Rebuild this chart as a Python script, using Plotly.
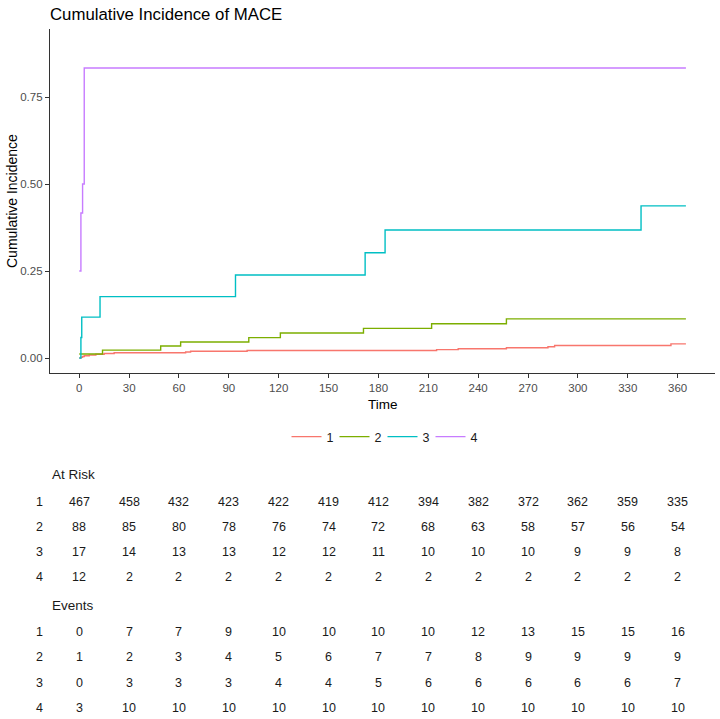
import plotly.graph_objects as go

# ---------------- data ----------------
groups = ["1", "2", "3", "4"]
colors = ["#F8766D", "#7CAE00", "#00BFC4", "#C77CFF"]

# step curves: event times and cumulative incidence after each step
t_1 = [0, 1, 2, 3, 6, 10, 15, 21, 64, 67, 101, 215, 228, 257, 282, 286, 356, 365]
ci_1 = [0.0, 0.0021, 0.0043, 0.0064, 0.0086, 0.0107, 0.0128, 0.015, 0.0172, 0.0194, 0.0216,
        0.0240, 0.0265, 0.0293, 0.0325, 0.0360, 0.0405, 0.0405]

t_2 = [0, 14, 49, 61, 102, 121, 171, 212, 257, 365]
ci_2 = [0.0114, 0.0227, 0.0345, 0.0460, 0.0585, 0.0720, 0.0850, 0.0985, 0.1125, 0.1125]

t_3 = [0, 1, 1.5, 12.5, 94, 172, 184, 338, 365]
ci_3 = [0.0, 0.0588, 0.1176, 0.1765, 0.2385, 0.3026, 0.368, 0.437, 0.437]

t_4 = [0, 1, 2, 3, 365]
ci_4 = [0.25, 0.4167, 0.5, 0.8333, 0.8333]

times = [t_1, t_2, t_3, t_4]
cis = [ci_1, ci_2, ci_3, ci_4]

time_breaks = [0, 30, 60, 90, 120, 150, 180, 210, 240, 270, 300, 330, 360]
y_ticks = [0.0, 0.25, 0.5, 0.75]
y_tick_labels = ["0.00", "0.25", "0.50", "0.75"]

at_risk_1 = [467, 458, 432, 423, 422, 419, 412, 394, 382, 372, 362, 359, 335]
at_risk_2 = [88, 85, 80, 78, 76, 74, 72, 68, 63, 58, 57, 56, 54]
at_risk_3 = [17, 14, 13, 13, 12, 12, 11, 10, 10, 10, 9, 9, 8]
at_risk_4 = [12, 2, 2, 2, 2, 2, 2, 2, 2, 2, 2, 2, 2]
events_1 = [0, 7, 7, 9, 10, 10, 10, 10, 12, 13, 15, 15, 16]
events_2 = [1, 2, 3, 4, 5, 6, 7, 7, 8, 9, 9, 9, 9]
events_3 = [0, 3, 3, 3, 4, 4, 5, 6, 6, 6, 6, 6, 7]
events_4 = [3, 10, 10, 10, 10, 10, 10, 10, 10, 10, 10, 10, 10]
at_risk = [at_risk_1, at_risk_2, at_risk_3, at_risk_4]
events = [events_1, events_2, events_3, events_4]

title_text = "Cumulative Incidence of MACE"
x_title = "Time"
y_title = "Cumulative Incidence"

# ---------------- layout geometry (pixels) ----------------
W, H = 720, 719
M_L, M_R, M_T, M_B = 50, 5, 29, 0
PLOT_BOTTOM = 373
paper_h = H - M_T - M_B
paper_w = W - M_L - M_R


def py(p):
    return (H - M_B - p) / paper_h


def px(p):
    return (p - M_L) / paper_w


FONT = "Arial, Liberation Sans, Helvetica, sans-serif"

fig = go.Figure()
for g, c, t, ci in zip(groups, colors, times, cis):
    fig.add_trace(go.Scatter(x=t, y=ci, mode="lines", line=dict(color=c, width=1.4, shape="hv"),
                             name=g, showlegend=True))

annotations = []
# axis titles
annotations.append(dict(text=x_title, xref="paper", yref="paper", x=0.5, y=py(404),
                        xanchor="center", yanchor="middle", showarrow=False,
                        font=dict(size=13.5, color="#000000", family=FONT)))
annotations.append(dict(text=y_title, xref="paper", yref="paper", x=px(12), y=py(201),
                        xanchor="center", yanchor="middle", showarrow=False, textangle=-90,
                        font=dict(size=14, color="#000000", family=FONT)))

# risk table
header_font = dict(size=13.5, color="#1a1a1a", family=FONT)
cell_font = dict(size=12.5, color="#1a1a1a", family=FONT)
annotations.append(dict(text="At Risk", xref="paper", yref="paper", x=0, y=py(474),
                        xanchor="left", yanchor="middle", showarrow=False, font=header_font))
annotations.append(dict(text="Events", xref="paper", yref="paper", x=0, y=py(605),
                        xanchor="left", yanchor="middle", showarrow=False, font=header_font))
risk_rows_y = [502, 527, 552, 577]
event_rows_y = [632, 657, 683, 708]
for block, rows_y in ((at_risk, risk_rows_y), (events, event_rows_y)):
    for g, vals, ry in zip(groups, block, rows_y):
        annotations.append(dict(text=g, xref="paper", yref="paper", x=px(39), y=py(ry),
                                xanchor="center", yanchor="middle", showarrow=False, font=cell_font))
        for tb, v in zip(time_breaks, vals):
            annotations.append(dict(text=str(v), xref="x", yref="paper", x=tb, y=py(ry),
                                    xanchor="center", yanchor="middle", showarrow=False,
                                    font=cell_font))

fig.update_layout(
    width=W, height=H,
    margin=dict(l=M_L, r=M_R, t=M_T, b=M_B, autoexpand=False),
    paper_bgcolor="white", plot_bgcolor="white",
    title=dict(text=title_text, x=px(50), xref="paper", xanchor="left",
               y=1 - 14 / H, yref="container", yanchor="middle",
               font=dict(size=16.8, color="#000000", family=FONT)),
    font=dict(family=FONT),
    showlegend=True,
    legend=dict(orientation="h", x=0.5, xanchor="center", y=py(437), yanchor="middle",
                font=dict(size=12.5, color="#1a1a1a", family=FONT), itemwidth=30,
                entrywidth=3, entrywidthmode="pixels",
                bgcolor="rgba(0,0,0,0)"),
    annotations=annotations,
    xaxis=dict(range=[-17.6, 382.5], tickvals=time_breaks, ticktext=[str(v) for v in time_breaks],
               showgrid=False, zeroline=False, showline=True, linecolor="#333333", linewidth=1.2,
               ticks="outside", ticklen=4, tickcolor="#333333", tickwidth=1,
               tickfont=dict(size=11.5, color="#4d4d4d", family=FONT)),
    yaxis=dict(range=[-0.0431, 0.9454], tickvals=y_ticks, ticktext=y_tick_labels,
               domain=[py(PLOT_BOTTOM), 1],
               showgrid=False, zeroline=False, showline=True, linecolor="#333333", linewidth=1.2,
               ticks="outside", ticklen=4, tickcolor="#333333", tickwidth=1,
               tickfont=dict(size=11.5, color="#4d4d4d", family=FONT)),
)

fig.write_html("out.html")
